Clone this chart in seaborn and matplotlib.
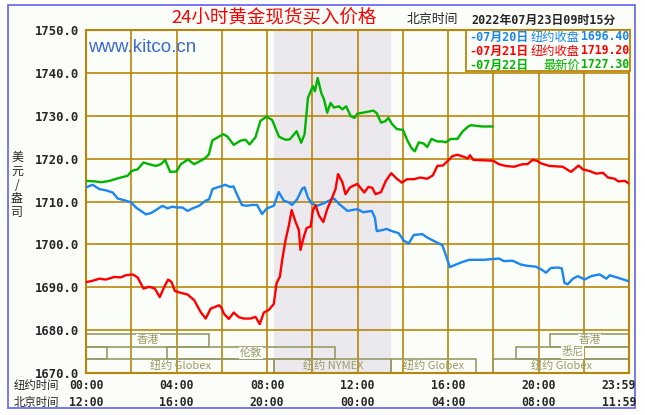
import pandas as pd
import seaborn as sns
import matplotlib.pyplot as plt
from matplotlib.patches import Rectangle

# ---- data (New York hours, price) ----
blue_hours = [0.00, 0.29, 0.59, 0.88, 1.18, 1.40, 1.69, 1.99, 2.21, 2.43, 2.65, 2.87, 3.09, 3.38,
              3.60, 3.82, 4.00, 4.26, 4.49, 4.71, 5.00, 5.29, 5.44, 5.59, 5.81, 6.00, 6.15, 6.37,
              6.52, 6.67, 6.89, 7.11, 7.33, 7.56, 7.78, 8.00, 8.30, 8.52, 8.74, 8.96, 9.11, 9.33,
              9.56, 9.66, 9.81, 9.96, 10.22, 10.52, 10.74, 10.96, 11.19, 11.56, 11.85, 12.00,
              12.25, 12.63, 12.77, 12.85, 13.07, 13.29, 13.52, 13.82, 14.04, 14.26, 14.49, 14.86,
              15.08, 15.45, 15.75, 15.93, 16.08, 16.35, 16.64, 16.94, 17.60, 18.00, 18.25, 18.47,
              18.85, 19.22, 19.51, 19.88, 20.11, 20.33, 20.55, 20.85, 21.03, 21.15, 21.29, 21.52,
              21.74, 22.04, 22.33, 22.70, 23.00, 23.15, 23.52, 23.99]
blue_prices = [1713.3, 1713.9, 1712.9, 1712.6, 1712.1, 1710.7, 1710.3, 1709.8, 1708.6, 1707.8,
               1707.0, 1707.3, 1708.0, 1709.0, 1708.4, 1708.8, 1708.6, 1708.6, 1707.8, 1708.4,
               1709.0, 1710.2, 1710.5, 1712.9, 1713.3, 1713.6, 1713.9, 1713.4, 1713.5, 1711.7,
               1709.2, 1709.0, 1709.2, 1709.2, 1707.1, 1708.4, 1709.0, 1712.2, 1710.2, 1709.8,
               1709.2, 1710.5, 1713.0, 1713.3, 1710.9, 1709.6, 1709.0, 1709.6, 1710.2, 1710.7,
               1709.4, 1707.8, 1708.1, 1708.2, 1707.5, 1707.8, 1706.2, 1703.1, 1703.3, 1703.6,
               1703.1, 1702.6, 1700.9, 1700.2, 1702.2, 1702.4, 1701.6, 1700.6, 1699.8, 1697.1,
               1694.7, 1695.3, 1695.9, 1696.4, 1696.4, 1696.6, 1696.7, 1696.1, 1696.2, 1695.3,
               1695.0, 1694.8, 1694.2, 1693.4, 1694.5, 1694.6, 1694.4, 1691.0, 1690.7, 1692.0,
               1692.6, 1691.8, 1692.6, 1693.0, 1692.0, 1692.8, 1692.2, 1691.4]

red_hours = [0.00, 0.29, 0.59, 0.88, 1.25, 1.54, 1.76, 2.06, 2.28, 2.54, 2.79, 3.04, 3.26, 3.46,
             3.63, 3.78, 3.93, 4.19, 4.49, 4.78, 5.07, 5.29, 5.51, 5.88, 6.00, 6.09, 6.31, 6.53,
             6.76, 6.98, 7.27, 7.49, 7.68, 7.86, 8.08, 8.30, 8.42, 8.57, 8.67, 8.82, 8.97, 9.09,
             9.26, 9.41, 9.48, 9.63, 9.75, 9.93, 10.03, 10.15, 10.29, 10.49, 10.66, 10.88, 11.03,
             11.14, 11.33, 11.47, 11.67, 11.99, 12.30, 12.48, 12.65, 12.80, 13.04, 13.25, 13.49,
             13.74, 13.96, 14.19, 14.49, 14.78, 15.08, 15.33, 15.53, 15.78, 16.05, 16.20, 16.42,
             16.72, 16.87, 16.97, 17.12, 17.60, 18.00, 18.25, 18.55, 18.92, 19.29, 19.51, 19.74,
             19.93, 20.11, 20.48, 21.07, 21.44, 21.77, 21.96, 22.26, 22.55, 22.85, 23.07, 23.37,
             23.52, 23.82, 23.99]
red_prices = [1691.2, 1691.5, 1692.0, 1691.8, 1692.4, 1692.3, 1692.8, 1693.0, 1692.3, 1689.7,
              1690.1, 1689.7, 1687.7, 1690.1, 1691.8, 1691.2, 1689.1, 1688.7, 1688.3, 1687.0,
              1684.2, 1682.7, 1685.0, 1685.8, 1685.1, 1683.9, 1682.6, 1684.1, 1683.0, 1682.7,
              1682.7, 1683.1, 1681.4, 1684.1, 1684.7, 1686.1, 1690.9, 1692.5, 1696.3, 1701.0,
              1704.5, 1708.0, 1705.3, 1703.3, 1698.7, 1701.8, 1703.8, 1704.2, 1708.0, 1709.1,
              1706.8, 1705.2, 1708.2, 1710.9, 1712.9, 1716.4, 1714.5, 1711.7, 1713.3, 1714.1,
              1712.1, 1713.4, 1713.2, 1711.7, 1712.2, 1714.8, 1716.6, 1715.3, 1714.4, 1715.2,
              1715.2, 1715.6, 1715.3, 1716.1, 1718.3, 1718.4, 1719.8, 1720.6, 1720.9, 1720.4,
              1720.0, 1720.8, 1719.7, 1719.6, 1719.5, 1718.7, 1718.3, 1718.1, 1718.7, 1718.7,
              1719.7, 1719.5, 1718.9, 1718.3, 1718.1, 1716.9, 1718.4, 1717.5, 1717.1, 1716.5,
              1716.7, 1715.6, 1715.3, 1714.7, 1714.8, 1714.2]

green_hours = [0.00, 0.37, 0.66, 1.03, 1.40, 1.84, 2.01, 2.28, 2.54, 2.79, 3.09, 3.31, 3.50, 3.72,
               4.00, 4.19, 4.51, 4.78, 5.07, 5.29, 5.43, 5.58, 5.80, 6.06, 6.24, 6.53, 6.83, 7.05,
               7.23, 7.49, 7.71, 7.98, 8.23, 8.53, 8.82, 9.01, 9.31, 9.51, 9.66, 9.81, 10.03, 10.12,
               10.24, 10.40, 10.52, 10.66, 10.81, 10.96, 11.18, 11.33, 11.50, 11.70, 11.87, 12.00,
               12.33, 12.70, 12.85, 13.04, 13.22, 13.37, 13.52, 13.74, 14.01, 14.19, 14.38, 14.53,
               14.71, 14.93, 15.08, 15.27, 15.53, 15.75, 15.90, 16.12, 16.42, 16.64, 16.87, 17.01,
               17.50, 17.98]
green_prices = [1714.8, 1714.7, 1714.5, 1714.8, 1715.4, 1716.0, 1717.1, 1717.5, 1719.1, 1718.7,
                1718.3, 1718.7, 1719.7, 1716.9, 1717.0, 1718.7, 1719.8, 1718.7, 1719.5, 1720.2,
                1721.0, 1724.2, 1724.9, 1725.7, 1725.2, 1723.2, 1724.2, 1724.4, 1723.3, 1725.0,
                1728.8, 1729.8, 1729.0, 1725.1, 1724.4, 1724.5, 1726.4, 1723.7, 1725.7, 1734.2,
                1736.9, 1735.7, 1738.8, 1735.3, 1733.8, 1730.7, 1733.0, 1731.9, 1732.2, 1731.5,
                1732.2, 1729.9, 1729.5, 1730.5, 1730.8, 1731.2, 1730.6, 1728.4, 1728.7, 1729.5,
                1728.1, 1726.9, 1726.7, 1724.4, 1722.5, 1721.7, 1723.8, 1723.5, 1722.7, 1724.6,
                1724.0, 1724.0, 1723.8, 1724.6, 1724.6, 1726.3, 1727.4, 1727.8, 1727.5, 1727.5]

series_names = ['07月20日', '07月21日', '07月22日']
series_labels = ['纽约收盘', '纽约收盘', '最新价']
series_last = ['1696.40', '1719.20', '1727.30']
series_colors = ['#1A86F2', '#FF0000', '#00B400']

y_ticks = [1670, 1680, 1690, 1700, 1710, 1720, 1730, 1740, 1750]
label_hours = [0, 4, 8, 12, 16, 20, 23.55]
ny_labels = ['00:00', '04:00', '08:00', '12:00', '16:00', '20:00', '23:59']
bj_labels = ['12:00', '16:00', '20:00', '00:00', '04:00', '08:00', '11:59']

# trading sessions: (name, start hour, end hour, row)
sessions = [('香港', 0, 5.45, 0), ('香港', 20.5, 24, 0),
            ('', 0, 0.95, 1), ('伦敦', 3.6, 11.0, 1), ('悉尼', 19.0, 24, 1),
            ('纽约 Globex', 0, 8.33, 2), ('纽约 NYMEX', 8.33, 13.5, 2),
            ('纽约 Globex', 13.5, 17.25, 2), ('纽约 Globex', 18.0, 24, 2)]
row_edges = [(1676.1, 1679.1), (1673.2, 1676.1), (1670.0, 1673.2)]
nymex_span = (8.33, 13.5)

BG = '#FBFDF8'
GRID = '#B8860B'
OLIVE = '#9A9A68'
CJK = 'Noto Sans CJK SC'
MONO = ['DejaVu Sans Mono', 'Noto Sans CJK SC']

sns.set_style('white')
plt.rcParams['font.family'] = ['DejaVu Sans', 'Noto Sans CJK SC']

W, H = 645, 415


def fx(x):
    return x / W


def fy(y):
    return 1 - y / H


fig = plt.figure(figsize=(6.45, 4.15), dpi=100)
fig.patch.set_facecolor('white')
fig.patches.append(Rectangle((fx(8), fy(408)), 627 / W, 403 / H, transform=fig.transFigure,
                             facecolor=BG, edgecolor='#6D6DF2', lw=1.3, zorder=-5))

ax = fig.add_axes([fx(86), fy(373), 543 / W, 343 / H])
ax.set_facecolor(BG)

frames = []
for name, hrs, prc in zip(series_names, [blue_hours, red_hours, green_hours],
                          [blue_prices, red_prices, green_prices]):
    frames.append(pd.DataFrame({'hour': hrs, 'price': prc, 'day': name}))
df = pd.concat(frames, ignore_index=True)

ax.axvspan(*nymex_span, color='#ECE9EE', lw=0, zorder=0)
sns.lineplot(data=df, x='hour', y='price', hue='day', palette=dict(zip(series_names, series_colors)),
             estimator=None, sort=False, lw=1.7, legend=False, ax=ax, zorder=3)

ax.set_xlim(0, 24)
ax.set_ylim(1670, 1750)
ax.set_xticks(range(0, 25, 2))
ax.set_yticks(y_ticks)
ax.set_xticklabels([])
ax.set_yticklabels([f'{v:.1f}' for v in y_ticks], family='DejaVu Sans Mono',
                   fontweight='bold', fontsize=8.8)
ax.tick_params(length=0, pad=5)
ax.set_xlabel('')
ax.set_ylabel('')
ax.set_axisbelow(True)
ax.grid(True, color=GRID, lw=1.2)
for sp in ax.spines.values():
    sp.set_color(GRID)
    sp.set_linewidth(1.5)

# trading session boxes
for name, h0, h1, row in sessions:
    y0, y1 = row_edges[row]
    ax.add_patch(Rectangle((h0, y0), h1 - h0, y1 - y0, fill=False, edgecolor=OLIVE,
                           lw=1.2, zorder=2))
    if name:
        box = None
        if row < 2:
            box = dict(facecolor=BG, edgecolor='none', pad=0.6)
        ax.text((h0 + h1) / 2, (y0 + y1) / 2 + 0.1, name, ha='center', va='center',
                family=CJK, fontsize=8, color=OLIVE, bbox=box, zorder=2.5)

# x labels (two rows)
fig.text(fx(36), fy(385), '纽约时间', ha='center', va='center', family=CJK, fontsize=8.2)
fig.text(fx(36), fy(402), '北京时间', ha='center', va='center', family=CJK, fontsize=8.2)
for h, a, b in zip(label_hours, ny_labels, bj_labels):
    xp = 86 + h * 543 / 24
    fig.text(fx(xp), fy(385), a, ha='center', va='center', family='DejaVu Sans Mono',
             fontweight='bold', fontsize=8.3)
    fig.text(fx(xp), fy(402), b, ha='center', va='center', family='DejaVu Sans Mono',
             fontweight='bold', fontsize=8.3)

# y label, stacked characters
for i, ch in enumerate('美元/盎司'):
    fig.text(fx(17), fy(158 + i * 13.5), ch, ha='center', va='center', family=CJK, fontsize=8.6)

# title and timestamp
fig.text(fx(274), fy(18), '24小时黄金现货买入价格', ha='center', va='center', family=CJK,
         fontsize=13.3, color='#FF0000', fontweight='medium')
fig.text(fx(407), fy(20), '北京时间', ha='left', va='center', family=CJK, fontsize=9.3)
fig.text(fx(471), fy(20), '2022年07月23日09时15分', ha='left', va='center', family=MONO,
         fontweight='bold', fontsize=8.5)
fig.text(fx(88), fy(48), 'www.kitco.cn', ha='left', va='center', family='Liberation Sans',
         fontsize=13.5, color='#3A6AD4')

# legend box
fig.patches.append(Rectangle((fx(466), fy(71)), 164 / W, 41 / H, transform=fig.transFigure,
                             facecolor=BG, edgecolor=GRID, lw=1.3, zorder=1))
for i, (nm, lb, val, col) in enumerate(zip(series_names, series_labels, series_last, series_colors)):
    yp = 37 + i * 14
    fig.text(fx(469), fy(yp), '-' + nm, ha='left', va='center', family=MONO,
             fontweight='bold', fontsize=8.5, color=col)
    fig.text(fx(580), fy(yp), lb, ha='right', va='center', family=CJK, fontsize=8.8, color=col)
    fig.text(fx(629), fy(yp), val, ha='right', va='center', family='DejaVu Sans Mono',
             fontweight='bold', fontsize=8.3, color=col)

fig.savefig('out.png', dpi=100, facecolor=fig.get_facecolor())
